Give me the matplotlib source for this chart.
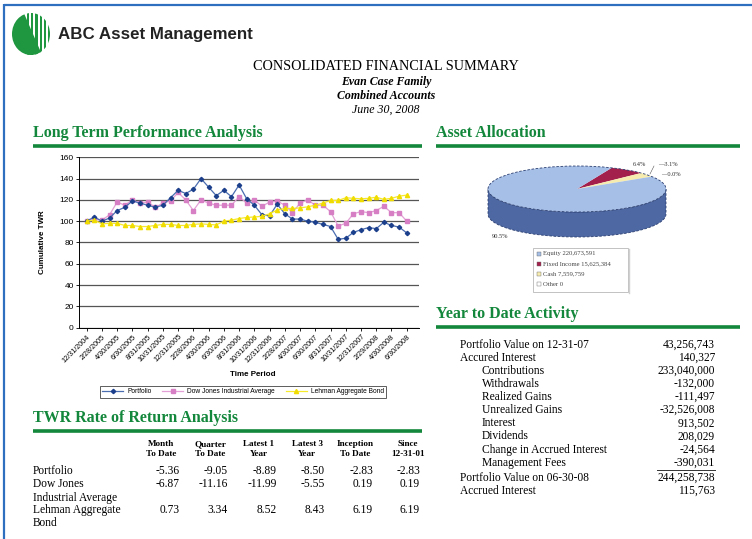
import numpy as np
import matplotlib
matplotlib.use('Agg')
import matplotlib.pyplot as plt
from matplotlib.patches import Ellipse, Polygon, Rectangle

# --- donnees du graphique de performance (TWR cumule, base 100) ---
portfolio = [100, 104, 100, 103, 110, 113, 119, 117, 115, 113, 115, 122, 129, 126, 130,
             140, 132, 124, 129, 123, 134, 121, 115, 106, 105, 116, 107, 102, 102, 100,
             99, 97, 95, 83, 84, 89.5, 92, 94, 93, 99, 96, 94.5, 89]
dow = [100, 102, 101, 106, 118, 115, 120, 117, 118, 113, 117, 119, 127, 120, 110,
       120, 117, 115, 115, 115, 123, 117, 120, 114, 118, 119, 115, 108, 117, 120,
       115, 115, 109, 95.5, 98, 107, 109, 108, 110, 114, 108, 108, 100]
lehman = [100, 101, 97.5, 98, 98, 96, 96, 95, 95, 96, 97, 97, 96, 96, 97,
          97.5, 97, 96.5, 100, 101, 102.5, 103.5, 104, 104.5, 107, 110.5, 112, 112, 112.5, 113.5,
          115, 117, 119.5, 119.5, 122, 121.5, 121, 121.5, 122.5, 120.5, 121.5, 123.5, 124.5]
tick_dates = ['12/31/2004', '2/28/2005', '4/30/2005', '6/30/2005', '8/31/2005', '10/31/2005',
              '12/31/2005', '2/28/2006', '4/30/2006', '6/30/2006', '8/31/2006', '10/31/2006',
              '12/31/2006', '2/28/2007', '4/30/2007', '6/30/2007', '8/31/2007', '10/31/2007',
              '12/31/2007', '2/29/2008', '4/30/2008', '6/30/2008']
series_names = ['Portfolio', 'Dow Jones Industrial Average', 'Lehman Aggregate Bond']

# --- repartition des actifs ---
alloc_names = ['Equity', 'Fixed Income', 'Cash', 'Other']
alloc_values = [220673591, 15625384, 7559759, 0]
alloc_pct = ['90.5%', '6.4%', '3.1%', '0.0%']

# --- tableau TWR ---
twr_cols = ['Month\nTo Date', 'Quarter\nTo Date', 'Latest 1\nYear', 'Latest 3\nYear',
            'Inception\nTo Date', 'Since\n12-31-01']
twr_rows = ['Portfolio', 'Dow Jones\nIndustrial Average', 'Lehman Aggregate\nBond']
twr_portfolio = [-5.36, -9.05, -8.89, -8.50, -2.83, -2.83]
twr_dow = [-6.87, -11.16, -11.99, -5.55, 0.19, 0.19]
twr_lehman = [0.73, 3.34, 8.52, 8.43, 6.19, 6.19]

# --- activite depuis le debut de l'annee ---
ytd_labels = ['Portfolio Value on 12-31-07', 'Accured Interest', 'Contributions', 'Withdrawals',
              'Realized Gains', 'Unrealized Gains', 'Interest', 'Dividends',
              'Change in Accrued Interest', 'Management Fees',
              'Portfolio Value on 06-30-08', 'Accrued Interest']
ytd_values = ['43,256,743', '140,327', '233,040,000', '-132,000', '-111,497', '-32,526,008',
              '913,502', '208,029', '-24,564', '-390,031', '244,258,738', '115,763']
ytd_indent = [0, 0, 1, 1, 1, 1, 1, 1, 1, 1, 0, 0]

SERIF = 'Liberation Serif'
SANS = 'Liberation Sans'
GREEN = '#13873b'
W, H = 752, 539

fig = plt.figure(figsize=(W / 100, H / 100), dpi=100)
fig.patch.set_facecolor('white')

# axe de fond en coordonnees pixels
bg = fig.add_axes([0, 0, 1, 1])
bg.set_xlim(0, W)
bg.set_ylim(H, 0)
bg.axis('off')

# cadre bleu
bg.plot([4, W], [4.5, 4.5], color='#2f6fc0', lw=1.6, solid_capstyle='butt')
bg.plot([4, 4], [4, H], color='#2f6fc0', lw=1.6, solid_capstyle='butt')

# logo
lx, ly, rx, ry = 31, 34, 19, 21
clip = Ellipse((lx, ly), 2 * rx, 2 * ry, transform=bg.transData, facecolor='none', edgecolor='none')
bg.add_patch(clip)
for sx in np.arange(lx - 4, lx + rx + 1, 4.2):
    r = Rectangle((sx, ly - ry), 2.2, 2 * ry, color='#1f9640', lw=0)
    bg.add_patch(r)
    r.set_clip_path(clip)
solid = Polygon([(lx - rx - 2, ly - ry - 2), (lx - 8, ly - ry - 2), (lx + 12, ly + ry + 2),
                 (lx - rx - 2, ly + ry + 2)], closed=True, color='#1f9640', lw=0)
bg.add_patch(solid)
solid.set_clip_path(clip)
bg.text(58, 34, 'ABC Asset Management', family=SANS, weight='bold', fontsize=12.2,
        color='#222222', va='center', ha='left')

# titre
bg.text(386, 67, 'CONSOLIDATED FINANCIAL SUMMARY', family=SERIF, fontsize=10.3, ha='center', va='center')
bg.text(386, 82, 'Evan Case Family', family=SERIF, fontsize=8.6, weight='bold', style='italic',
        ha='center', va='center')
bg.text(386, 96, 'Combined Accounts', family=SERIF, fontsize=8.6, weight='bold', style='italic',
        ha='center', va='center')
bg.text(386, 110, 'June 30, 2008', family=SERIF, fontsize=8.6, style='italic', ha='center', va='center')

# titres de section + barres vertes
def section(x0, x1, y, title):
    bg.text(x0, y, title, family=SERIF, weight='bold', fontsize=11.5, color=GREEN, ha='left', va='center')
    bg.plot([x0, x1], [y + 13, y + 13], color=GREEN, lw=2.6, solid_capstyle='butt')

section(33, 422, 133, 'Long Term Performance Analysis')
section(436, 740, 133, 'Asset Allocation')
section(33, 422, 417.5, 'TWR Rate of Return Analysis')
section(436, 740, 314, 'Year to Date Activity')

# --- graphique lineaire ---
ax = fig.add_axes([79.3 / W, 1 - 327.7 / H, 340 / W, 170.4 / H])
x = np.arange(len(portfolio))
ax.plot(x, portfolio, color='#4a6db0', lw=0.9, marker='D', ms=2.2, mfc='#1c3f8c', mec='#1c3f8c',
        label=series_names[0], zorder=3)
ax.plot(x, dow, color='#e3a0d6', lw=0.9, marker='s', ms=3, mfc='#d77fc4', mec='#d77fc4',
        label=series_names[1], zorder=2)
ax.plot(x, lehman, color='#f6ea2a', lw=0.9, marker='^', ms=3, mfc='#f0dc00', mec='#f0dc00',
        label=series_names[2], zorder=4)
ax.set_xlim(-0.97, 43.65)
ax.set_ylim(0, 160)
ax.set_yticks(np.arange(0, 161, 20))
ax.yaxis.grid(True, color='#555555', lw=0.9)
ax.set_axisbelow(True)
ax.set_xticks(x[::2])
ax.set_xticklabels(tick_dates, rotation=45, ha='right', rotation_mode='anchor', fontsize=5.2,
                   family=SANS)
for lab in ax.get_yticklabels():
    lab.set_family(SANS)
ax.tick_params(axis='y', labelsize=6, length=2.5, width=0.6, pad=1.5)
ax.tick_params(axis='x', length=2.5, width=0.6, pad=1.5)
for s in ['top', 'right']:
    ax.spines[s].set_visible(False)
ax.spines['left'].set_linewidth(0.7)
ax.spines['bottom'].set_linewidth(0.7)

bg.text(42, 242, 'Cumulative TWR', family=SANS, weight='bold', fontsize=5.8, rotation=90,
        ha='center', va='center')
bg.text(253, 374, 'Time Period', family=SANS, weight='bold', fontsize=5.8, ha='center', va='center')

leg = fig.legend(handles=ax.get_lines(), loc='center', bbox_to_anchor=(243 / W, 1 - 391.7 / H),
                 ncol=3, frameon=True, fancybox=False, edgecolor='#333333',
                 handlelength=3.2, columnspacing=1.6, borderpad=0.35, handletextpad=0.6,
                 prop={'family': SANS, 'size': 4.8})
leg.get_frame().set_linewidth(0.7)

# --- camembert 3D ---
cx, cy, a, b, depth = 577, 189, 89, 23, 25
t = np.radians(np.linspace(180, 360, 120))
top_arc = np.column_stack([cx + a * np.cos(t), cy - b * np.sin(t)])
bot_arc = top_arc[::-1] + [0, depth]
bg.add_patch(Polygon(np.vstack([top_arc, bot_arc]), closed=True, facecolor='#4d68a3',
                     edgecolor='#2c3f70', lw=0.6, ls=(0, (3, 2))))
colors = ['#a6bfe6', '#a3204c', '#f6ecb0', '#ffffff']
total = float(sum(alloc_values))
start = 67.0
order = [1, 2, 3, 0]
ang = start
for i in order:
    span = 360 * alloc_values[i] / total
    if span <= 0:
        continue
    tt = np.radians(np.linspace(ang, ang - span, max(int(span), 2) + 2))
    pts = np.vstack([[cx, cy], np.column_stack([cx + a * np.cos(tt), cy - b * np.sin(tt)])])
    bg.add_patch(Polygon(pts, closed=True, facecolor=colors[i], edgecolor='none'))
    ang -= span
bg.add_patch(Ellipse((cx, cy), 2 * a, 2 * b, facecolor='none', edgecolor='#2c3f70', lw=0.6,
                     ls=(0, (3, 2))))
lf = dict(family=SERIF, fontsize=4.6, color='#333333', va='center')
bg.text(492, 237, alloc_pct[0], ha='left', **lf)
bg.text(646, 165, alloc_pct[1], ha='right', **lf)
bg.text(658, 165, '\u2014' + alloc_pct[2], ha='left', **lf)
bg.text(661, 175, '\u2014' + alloc_pct[3], ha='left', **lf)
bg.plot([650, 654], [174, 166], color='#555555', lw=0.4)

# legende du camembert
bg.add_patch(Rectangle((533, 248), 95, 44, facecolor='white', edgecolor='#b8b8b8', lw=0.6))
bg.plot([629, 629], [249, 293], color='#d0d0d0', lw=1)
for k, yy in enumerate([254, 264, 274, 284]):
    bg.add_patch(Rectangle((537, yy - 2), 3.5, 3.5, facecolor=colors[k], edgecolor='#666666', lw=0.3))
    bg.text(543, yy, '%s %s' % (alloc_names[k], format(alloc_values[k], ',')),
            family=SERIF, fontsize=4.8, color='#444444', va='center', ha='left')

# --- tableau TWR ---
col_right = [180, 228, 277, 325, 373, 420]
col_center = [161.5, 210, 259, 307, 355, 408]
for c, lab in zip(col_center, twr_cols):
    l1, l2 = lab.split('\n')
    bg.text(c, 444, l1, family=SERIF, weight='bold', fontsize=6.6, ha='center', va='center')
    bg.text(c, 454.5, l2, family=SERIF, weight='bold', fontsize=6.6, ha='center', va='center')
row_y = [471, 484, 510]
for name, vals, yy in zip(twr_rows, [twr_portfolio, twr_dow, twr_lehman], row_y):
    for j, line in enumerate(name.split('\n')):
        bg.text(33, yy + 13.5 * j, line, family=SERIF, fontsize=8.3, ha='left', va='center')
    for xr, v in zip(col_right, vals):
        bg.text(xr, yy, '%.2f' % v, family=SERIF, fontsize=8.3, ha='right', va='center')

# --- activite annuelle ---
yy = 344.7
for k, (lab, val) in enumerate(zip(ytd_labels, ytd_values)):
    if k == 10:
        bg.plot([657, 715], [469.5, 469.5], color='#333333', lw=0.7)
        yy += 2
    bg.text(460 + 22 * ytd_indent[k], yy, lab, family=SERIF, fontsize=8.3, ha='left', va='center')
    bg.text(715, yy, val, family=SERIF, fontsize=8.3, ha='right', va='center')
    yy += 13.1

fig.savefig('out.png', dpi=100)
